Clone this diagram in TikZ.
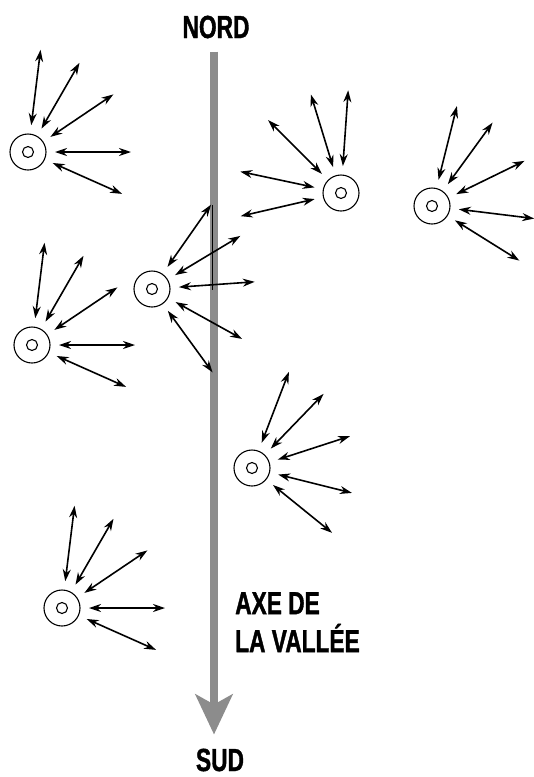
\documentclass[tikz,border=0pt]{standalone}
\usepackage{fontspec}
\newfontfamily\valleyfont[FakeStretch=0.71, BoldFeatures={FakeBold=1.2}]{Liberation Sans}
\usepackage{tikz}
\usetikzlibrary{arrows.meta, calc}
\tikzstyle{source} = [circle, draw=black, line width=1.1pt, minimum size=36pt, inner sep=0pt, path picture={\draw[line width=1.1pt] (path picture bounding box.center) circle (5.5pt);}]
\tikzstyle{ray} = [line width=1.6pt, <->, >={Stealth[length=12pt,width=8pt]}]
\tikzstyle{valley} = [line width=8pt, draw=black!45, -{Stealth[length=40pt,width=37pt,inset=10pt]}]
\tikzstyle{compass} = [font=\valleyfont\bfseries\fontsize{32}{38}\selectfont, inner sep=0pt]
\newcommand{\rays}[2]{\foreach \a in {#2} \draw[ray] ($(#1)+(\a:27pt)$) -- ($(#1)+(\a:103pt)$);}

\begin{document}
\begin{tikzpicture}[x=1pt, y=-1pt]
    \useasboundingbox (0,0) rectangle (534,777);

    % valley axis
    \node (nord) [compass] at (216,27) {NORD};
    \node (sud) [compass] at (220,760) {SUD};
    \node (axe) [compass, align=left, anchor=north west] at (235,592) {AXE DE\\LA VALL\'EE};
    \draw [valley] ($(nord.south)+(-2,13)$) -- ($(nord.south |- sud.north)+(-2,-14)$);
    \draw [line width=0.8pt] (212,205) -- (212,290);

    % sources
    \node (s1) [source] at (28,152) {};
    \node (s2) [source] at (341,193) {};
    \node (s3) [source] at (152,289) {};
    \node (s4) [source] at (432,206) {};
    \node (s5) [source] at (32,345) {};
    \node (s6) [source] at (252,468) {};
    \node (s7) [source] at (62,608) {};

    \rays{s1}{83,60,34,0,-24}
    \rays{s2}{107,86,135,168,193}
    \rays{s3}{55,31,4,-29,-54}
    \rays{s4}{76,54,26,-7,-32}
    \rays{s5}{83,60,34,0,-24}
    \rays{s6}{69,46,18,-14,-39}
    \rays{s7}{83,60,34,0,-24}
\end{tikzpicture}
\end{document}
